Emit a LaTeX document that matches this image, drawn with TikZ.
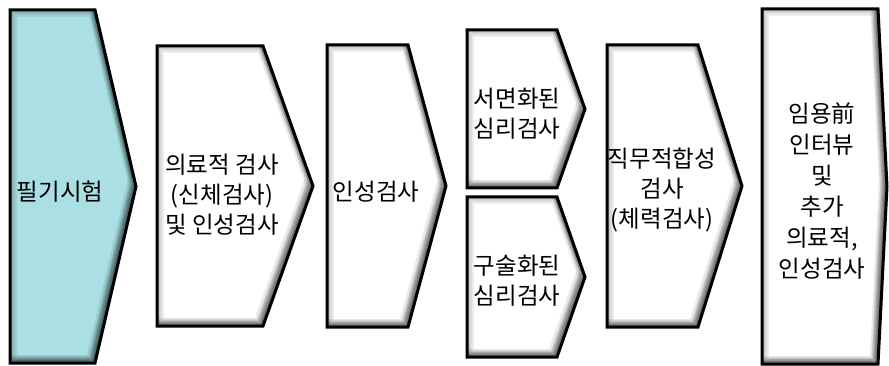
\documentclass[tikz,border=0pt]{standalone}
\usepackage{fontspec}
\newfontfamily\kr{Noto Sans CJK KR}
\definecolor{stepcyan}{RGB}{170,224,228}
\newcommand\chev[7]{%
  \fill[#2] (#3,#4) -- (#5,#4) -- (#6,{(#4+#7)/2}) -- (#5,#7) -- (#3,#7) -- cycle;
  \begin{scope}
    \clip (#3,#4) -- (#5,#4) -- (#6,{(#4+#7)/2}) -- (#5,#7) -- (#3,#7) -- cycle;
    \foreach \w in {14,10,6,3}
      \draw[line width=\w pt, black, opacity=0.07] (#3,#4) -- (#5,#4) -- (#6,{(#4+#7)/2}) -- (#5,#7) -- (#3,#7) -- cycle;
    \foreach \s in {2,3,4,5,6,8}
      \fill[black, opacity=0.09, even odd rule] (-50,-50) rectangle (950,450)
        (#3-\s,#4-\s) -- (#5-\s,#4-\s) -- (#6-\s,{(#4+#7)/2-\s}) -- (#5-\s,#7-\s) -- (#3-\s,#7-\s) -- cycle;
  \end{scope}
  \draw[outlinestyle] (#3,#4) -- (#5,#4) -- (#6,{(#4+#7)/2}) -- (#5,#7) -- (#3,#7) -- cycle;
  \coordinate (#1) at ({(#3+#5)/2},{(#4+#7)/2});
}
\begin{document}
\begin{tikzpicture}[x=1pt,y=-1pt,
  outlinestyle/.style={draw=black, line width=3pt, line join=miter},
  label/.style={font=\kr\fontsize{23.5}{30}\selectfont, align=center, inner sep=0pt, text=black}]
\useasboundingbox (0,0) rectangle (889,366);
\fill[white] (0,0) rectangle (889,366);
\chev{s1}{stepcyan}{10}{10}{95}{136}{363}
\chev{s2}{white}{157}{46}{263}{313}{326}
\chev{s3}{white}{327}{45}{408}{446}{327}
\chev{s4a}{white}{467}{30}{557}{585}{188}
\chev{s4b}{white}{467}{197}{557}{585}{357}
\chev{s5}{white}{607}{45}{698}{742}{327}
\chev{s6}{white}{762}{9}{878}{887}{364}
\node[label] (t1) at (60,192) {필기시험};
\node[label] (t2) at (222,195) {의료적 검사\\(신체검사)\\및 인성검사};
\node[label] (t3) at (376,192) {인성검사};
\node[label] (t4a) at (517,114) {서면화된\\심리검사};
\node[label] (t4b) at (517,281) {구술화된\\심리검사};
\node[label] (t5) at (662,190) {직무적합성\\검사\\(체력검사)};
\node[label, font=\kr\fontsize{23.5}{31}\selectfont] (t6) at (822,191) {임용前\\인터뷰\\및\\추가\\의료적,\\인성검사};
\end{tikzpicture}
\end{document}
